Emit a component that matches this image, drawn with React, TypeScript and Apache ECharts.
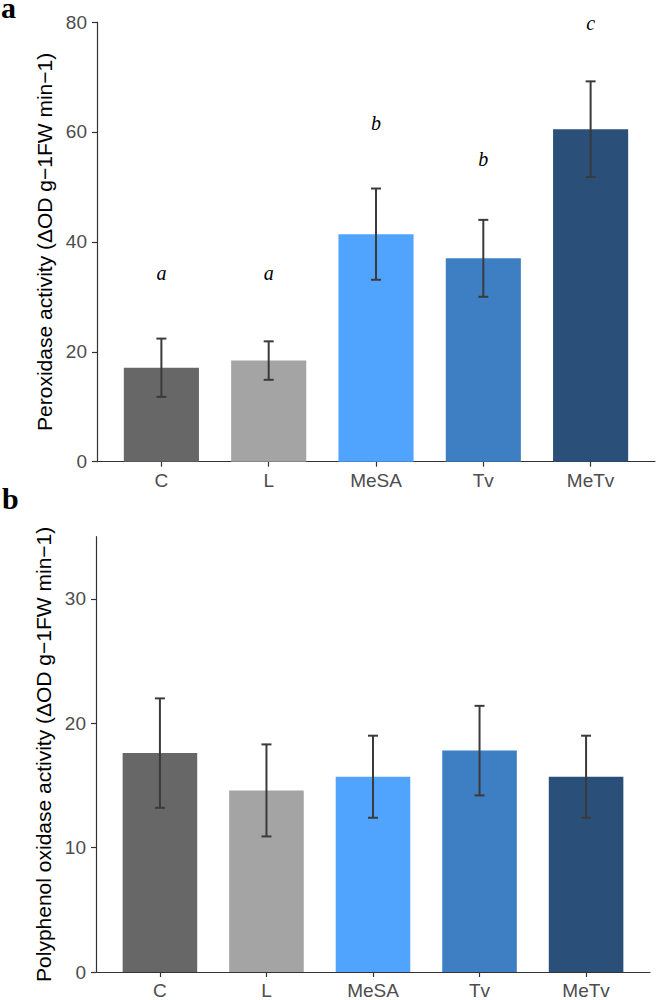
import React, { useEffect, useRef } from "react";
import * as echarts from "echarts";

const categories = ["C", "L", "MeSA", "Tv", "MeTv"];
const barColors = ["#676767", "#a4a4a4", "#50a4fe", "#3e7fc4", "#2a5079"];

// Panel a: Peroxidase activity
const peroxMean = [17.1, 18.4, 41.4, 37.0, 60.5];
const peroxSd = [5.3, 3.5, 8.3, 7.0, 8.7];
const peroxLetters = ["a", "a", "b", "b", "c"];
const peroxLetterY = [34.3, 34.3, 61.6, 55.0, 79.8];
const peroxTickValues = [0, 20, 40, 60, 80];
const peroxRange = { min: 0, max: 80, interval: 20 };

// Panel b: Polyphenol oxidase activity
const ppoMean = [17.6, 14.6, 15.7, 17.8, 15.7];
const ppoSd = [4.4, 3.7, 3.3, 3.6, 3.3];
const ppoTickValues = [0, 10, 20, 30];
const ppoRange = { min: 0, max: 35, interval: 10 };

const FONT = "Liberation Sans";
const AXIS_COLOR = "#333333";
const LABEL_COLOR = "#4d4d4d";

function xAxisFor(gridIndex: number) {
  return {
    type: "value",
    gridIndex,
    min: -0.6,
    max: 4.6,
    splitLine: { show: false },
    axisLine: { show: true, onZero: false, lineStyle: { color: AXIS_COLOR, width: 1.2 } },
    axisTick: {
      show: true,
      length: 5,
      customValues: [0, 1, 2, 3, 4],
      lineStyle: { color: AXIS_COLOR, width: 1.2 },
    },
    axisLabel: {
      show: true,
      margin: 9,
      customValues: [0, 1, 2, 3, 4],
      formatter: (v: number) => categories[Math.round(v)] ?? "",
      color: LABEL_COLOR,
      fontSize: 19,
      fontFamily: FONT,
    },
  };
}

function yAxisFor(
  gridIndex: number,
  range: { min: number; max: number; interval: number },
  tickValues: number[],
  name: string
) {
  return {
    type: "value",
    gridIndex,
    min: range.min,
    max: range.max,
    interval: range.interval,
    name,
    nameLocation: "middle",
    nameGap: 40,
    nameTextStyle: { color: "#000000", fontSize: 21, fontFamily: FONT },
    splitLine: { show: false },
    axisLine: { show: true, onZero: false, lineStyle: { color: AXIS_COLOR, width: 1.2 } },
    axisTick: {
      show: true,
      length: 5,
      customValues: tickValues,
      lineStyle: { color: AXIS_COLOR, width: 1.2 },
    },
    axisLabel: {
      margin: 10,
      customValues: tickValues,
      color: LABEL_COLOR,
      fontSize: 19,
      fontFamily: FONT,
    },
  };
}

function barSeries(idx: number, means: number[]) {
  return {
    type: "bar",
    xAxisIndex: idx,
    yAxisIndex: idx,
    barWidth: "70%",
    z: 2,
    data: means.map((m, i) => ({ value: [i, m], itemStyle: { color: barColors[i] } })),
    silent: true,
  };
}

function errorSeries(idx: number, means: number[], sds: number[]) {
  return {
    type: "custom",
    xAxisIndex: idx,
    yAxisIndex: idx,
    clip: false,
    z: 5,
    encode: { x: 0, y: [1, 2] },
    data: means.map((m, i) => [i, m - sds[i], m + sds[i]]),
    renderItem: (params: any, api: any) => {
      const x = api.value(0);
      const lo = api.coord([x, api.value(1)]);
      const hi = api.coord([x, api.value(2)]);
      const hw = 5;
      const style = { stroke: "#3a3a3a", lineWidth: 2 };
      return {
        type: "group",
        children: [
          { type: "line", shape: { x1: lo[0], y1: lo[1], x2: hi[0], y2: hi[1] }, style },
          { type: "line", shape: { x1: hi[0] - hw, y1: hi[1], x2: hi[0] + hw, y2: hi[1] }, style },
          { type: "line", shape: { x1: lo[0] - hw, y1: lo[1], x2: lo[0] + hw, y2: lo[1] }, style },
        ],
      };
    },
    silent: true,
  };
}

function letterSeries(idx: number, ys: number[], letters: string[]) {
  return {
    type: "custom",
    xAxisIndex: idx,
    yAxisIndex: idx,
    clip: false,
    z: 5,
    encode: { x: 0, y: 1 },
    data: ys.map((y, i) => [i, y]),
    renderItem: (params: any, api: any) => {
      const p = api.coord([api.value(0), api.value(1)]);
      return {
        type: "text",
        x: p[0],
        y: p[1],
        style: {
          text: letters[params.dataIndex],
          fill: "#000000",
          font: 'italic 20px "Liberation Serif"',
          align: "center",
          verticalAlign: "middle",
        },
      };
    },
    silent: true,
  };
}

export default function App() {
  const ref = useRef<HTMLDivElement>(null);
  useEffect(() => {
    if (!ref.current) return;
    const chart = echarts.init(ref.current, undefined, { renderer: "svg" });
    chart.setOption({
      animation: false,
      backgroundColor: "#ffffff",
      grid: [
        { left: 97, right: 2, top: 22, height: 439.7 },
        { left: 96, right: 7, top: 536.7, height: 440 },
      ],
      xAxis: [xAxisFor(0), xAxisFor(1)],
      yAxis: [
        yAxisFor(0, peroxRange, peroxTickValues, "Peroxidase activity (ΔOD g−1FW min−1)"),
        yAxisFor(1, ppoRange, ppoTickValues, "Polyphenol oxidase activity (ΔOD g−1FW min−1)"),
      ],
      graphic: [
        {
          type: "text",
          x: 1,
          y: 1,
          style: {
            text: "a",
            font: 'bold 30px "Liberation Serif"',
            fill: "#000",
            verticalAlign: "top",
            lineHeight: 12,
          },
        },
        {
          type: "text",
          x: 2,
          y: 498,
          style: { text: "b", font: 'bold 30px "Liberation Serif"', fill: "#000", verticalAlign: "middle" },
        },
      ],
      series: [
        barSeries(0, peroxMean),
        errorSeries(0, peroxMean, peroxSd),
        letterSeries(0, peroxLetterY, peroxLetters),
        barSeries(1, ppoMean),
        errorSeries(1, ppoMean, ppoSd),
      ],
    });
    return () => chart.dispose();
  }, []);
  return (
    <div
      ref={ref}
      style={{ position: "absolute", left: 0, top: 0, width: 657, height: 1000, background: "#fff" }}
    />
  );
}
